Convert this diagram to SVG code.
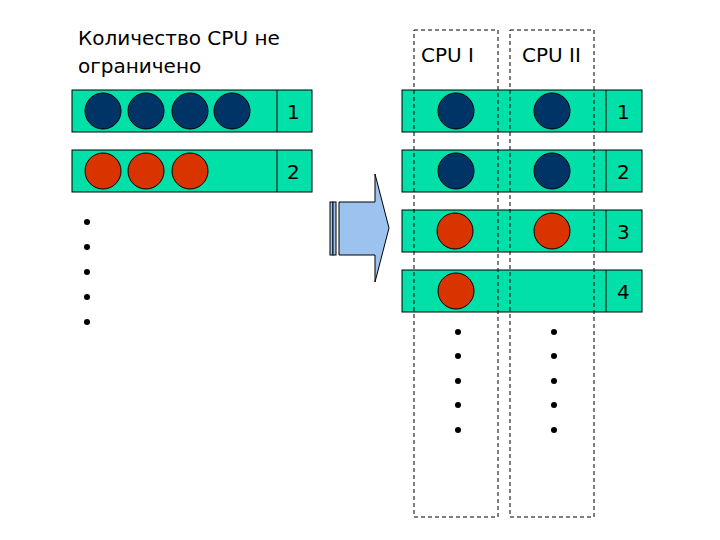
<svg xmlns="http://www.w3.org/2000/svg" width="720" height="540" viewBox="0 0 720 540">
<style>
.row{fill:#00E0A8;stroke:#000;stroke-width:1}
.b{fill:#003366;stroke:#000}
.r{fill:#D93300;stroke:#000}
.t{font-family:"DejaVu Sans",sans-serif;font-size:20px;fill:#000}
.col{fill:none;stroke:#000;stroke-dasharray:4,3}
</style>
<rect width="720" height="540" fill="#fff"/>
<text class="t" x="78" y="45">Количество CPU не</text>
<text class="t" x="78" y="73">ограничено</text>
<text class="t" x="421" y="62">CPU I</text>
<text class="t" x="522" y="62">CPU II</text>
<g id="left1"><rect class="row" x="72" y="90" width="240" height="42"/><line x1="277" y1="90" x2="277" y2="132" stroke="#000"/>
<circle class="b" cx="103" cy="111" r="18"/><circle class="b" cx="146" cy="111" r="18"/><circle class="b" cx="190" cy="111" r="18"/><circle class="b" cx="232" cy="111" r="18"/><text class="t" x="287" y="119">1</text></g>
<g id="left2"><rect class="row" x="72" y="150" width="240" height="42"/><line x1="277" y1="150" x2="277" y2="192" stroke="#000"/>
<circle class="r" cx="103" cy="171" r="18"/><circle class="r" cx="146" cy="171" r="18"/><circle class="r" cx="190" cy="171" r="18"/><text class="t" x="287" y="179">2</text></g>
<g id="right1"><rect class="row" x="402" y="90" width="240" height="42"/><line x1="606" y1="90" x2="606" y2="132" stroke="#000"/>
<circle class="b" cx="456" cy="111" r="18"/><circle class="b" cx="552" cy="111" r="18"/><text class="t" x="617" y="119">1</text></g>
<g id="right2"><rect class="row" x="402" y="150" width="240" height="42"/><line x1="606" y1="150" x2="606" y2="192" stroke="#000"/>
<circle class="b" cx="456" cy="171" r="18"/><circle class="b" cx="552" cy="171" r="18"/><text class="t" x="617" y="179">2</text></g>
<g id="right3"><rect class="row" x="402" y="210" width="240" height="42"/><line x1="606" y1="210" x2="606" y2="252" stroke="#000"/>
<circle class="r" cx="455" cy="231" r="18"/><circle class="r" cx="552" cy="231" r="18"/><text class="t" x="617" y="239">3</text></g>
<g id="right4"><rect class="row" x="402" y="270" width="240" height="42"/><line x1="606" y1="270" x2="606" y2="312" stroke="#000"/>
<circle class="r" cx="456" cy="291" r="18"/><text class="t" x="617" y="299">4</text></g>
<g id="cpu1"><rect class="col" x="414" y="30" width="84" height="487"/></g>
<g id="cpu2"><rect class="col" x="510" y="30" width="84" height="487"/></g>
<g id="arrow">
<rect x="330" y="202" width="3" height="53" fill="#9CC3F0" stroke="#000"/>
<rect x="333" y="202" width="3" height="53" fill="#9CC3F0" stroke="#000"/>
<path d="M339,202 H375 V174 L389,228 L375,282 V255 H339 Z" fill="#9CC3F0" stroke="#000"/>
</g>
<g id="dots" fill="#000">
<circle cx="87" cy="222" r="3"/><circle cx="87" cy="247" r="3"/><circle cx="87" cy="272" r="3"/><circle cx="87" cy="297" r="3"/><circle cx="87" cy="322" r="3"/>
<circle cx="458" cy="332" r="3"/><circle cx="458" cy="356" r="3"/><circle cx="458" cy="381" r="3"/><circle cx="458" cy="405" r="3"/><circle cx="458" cy="430" r="3"/>
<circle cx="554" cy="332" r="3"/><circle cx="554" cy="356" r="3"/><circle cx="554" cy="381" r="3"/><circle cx="554" cy="405" r="3"/><circle cx="554" cy="430" r="3"/>
</g>
</svg>
